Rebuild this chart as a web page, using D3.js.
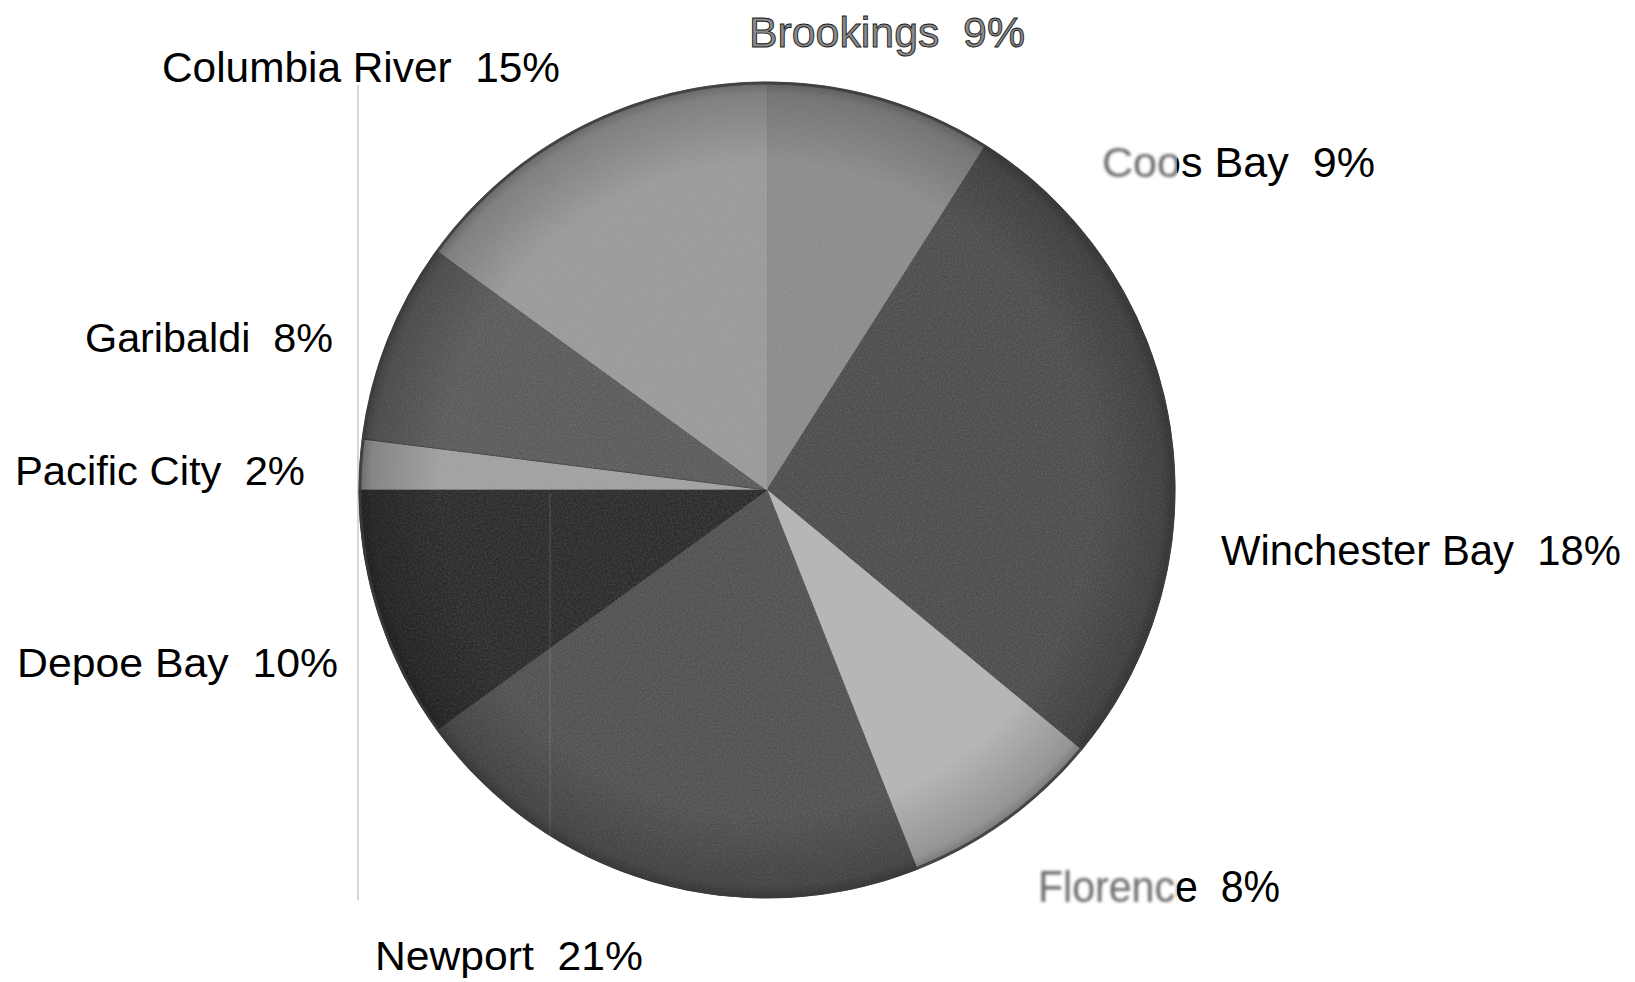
<!DOCTYPE html>
<html>
<head>
<meta charset="utf-8">
<script src="https://cdn.jsdelivr.net/npm/d3@7"></script>
<style>
  html, body { margin: 0; padding: 0; background: #fff; }
  svg { display: block; }
  text { font-family: "Liberation Sans", Arial, Helvetica, sans-serif; white-space: pre; }
</style>
</head>
<body>
<svg id="chart" width="1635" height="982"></svg>
<script>
// ---- data ----
const categories = ["Brookings", "Coos Bay", "Winchester Bay", "Florence", "Newport",
                    "Depoe Bay", "Pacific City", "Garibaldi", "Columbia River"];
const percents   = [9, 9, 18, 8, 21, 10, 2, 8, 15];

// ---- styles / layout (kept separate from data) ----
const sliceFill = ["#8d8d8d", "#4e4e4e", "#4e4e4e", "#b6b6b6", "#525252",
                   "#2c2c2c", "#a2a2a2", "#5c5c5c", "#9b9b9b"];
const sliceStroke = ["rgba(70,70,70,0.6)", "#4e4e4e", "#4e4e4e", "#b6b6b6", "#525252",
                     "#2c2c2c", "rgba(50,50,50,0.7)", "rgba(50,50,50,0.6)", "#9b9b9b"];
// label anchor: left x, baseline y, target width, font size
const labelLayout = [
  {x: 749,  y: 47,  w: 276, fs: 43},
  {x: 1102, y: 177, w: 273, fs: 42},
  {x: 1221, y: 565, w: 400, fs: 43},
  {x: 1038, y: 902, w: 242, fs: 44},
  {x: 375,  y: 970, w: 268, fs: 40},
  {x: 17,   y: 677, w: 321, fs: 40},
  {x: 15,   y: 485, w: 290, fs: 40},
  {x: 85,   y: 352, w: 248, fs: 40},
  {x: 162,  y: 82,  w: 398, fs: 42}
];
const cx = 767, cy = 490, R = 408;

const svg = d3.select("#chart");
const defs = svg.append("defs");

// grain filter
const grain = defs.append("filter").attr("id", "grain").attr("x", 0).attr("y", 0).attr("width", 1).attr("height", 1);
grain.append("feTurbulence").attr("type", "fractalNoise").attr("baseFrequency", 0.55).attr("numOctaves", 2).attr("seed", 3).attr("result", "n");
grain.append("feColorMatrix").attr("in", "n").attr("type", "matrix")
  .attr("values", "0 0 0 0 0.5  0 0 0 0 0.5  0 0 0 0 0.5  0 0 0 0.9 -0.3").attr("result", "g");
grain.append("feComposite").attr("in", "g").attr("in2", "SourceGraphic").attr("operator", "in");

const blur = defs.append("filter").attr("id", "blur").attr("x", "-10%").attr("y", "-30%").attr("width", "120%").attr("height", "160%");
blur.append("feGaussianBlur").attr("stdDeviation", 1.8);

const vign = defs.append("radialGradient").attr("id", "vign");
vign.append("stop").attr("offset", "0.80").attr("stop-color", "#000").attr("stop-opacity", 0);
vign.append("stop").attr("offset", "0.97").attr("stop-color", "#000").attr("stop-opacity", 0.18);
vign.append("stop").attr("offset", "1").attr("stop-color", "#000").attr("stop-opacity", 0.35);

defs.append("clipPath").attr("id", "leftClip").append("rect").attr("x", 0).attr("y", 0).attr("width", 1177).attr("height", 982);
defs.append("clipPath").attr("id", "rightClip").append("rect").attr("x", 1177).attr("y", 0).attr("width", 458).attr("height", 982);

// scan artefact: thin vertical rule on the left
svg.append("line").attr("x1", 358).attr("x2", 358).attr("y1", 85).attr("y2", 900)
  .attr("stroke", "#d6d6d6").attr("stroke-width", 2);

// ---- pie ----
const pie = d3.pie().sort(null).value(d => d)(percents);
const arc = d3.arc().innerRadius(0).outerRadius(R);
const g = svg.append("g").attr("transform", `translate(${cx},${cy})`);

g.selectAll("path.slice").data(pie).join("path")
  .attr("class", "slice")
  .attr("d", arc)
  .attr("fill", (d, i) => sliceFill[i])
  .attr("stroke", (d, i) => sliceStroke[i])
  .attr("stroke-width", 1);

// faint scan line inside Newport
svg.append("line").attr("x1", 550).attr("x2", 550).attr("y1", 493).attr("y2", 890)
  .attr("stroke", "rgba(255,255,255,0.08)").attr("stroke-width", 2);

g.append("circle").attr("r", R).attr("fill", "#808080").attr("filter", "url(#grain)").attr("opacity", 0.35);
g.append("circle").attr("r", R).attr("fill", "url(#vign)");
g.append("circle").attr("r", R - 1).attr("fill", "none").attr("stroke", "#3c3c3c").attr("stroke-width", 3).attr("opacity", 0.85);

// ---- labels ----
const labelText = categories.map((c, i) => `${c}  ${percents[i]}%`);

function addLabel(sel, i) {
  const L = labelLayout[i];
  return sel.append("text")
    .attr("x", L.x).attr("y", L.y)
    .attr("font-size", L.fs)
    .attr("textLength", L.w)
    .attr("lengthAdjust", "spacingAndGlyphs")
    .text(labelText[i]);
}

const labels = svg.append("g");
categories.forEach((c, i) => {
  if (c === "Brookings") {
    addLabel(labels, i).attr("fill", "#8a8a8a").attr("stroke", "#1a1a1a").attr("stroke-width", 0.9);
  } else if (c === "Coos Bay" || c === "Florence") {
    addLabel(labels.append("g").attr("clip-path", "url(#leftClip)"), i)
      .attr("fill", "#6a6a6a").attr("filter", "url(#blur)");
    addLabel(labels.append("g").attr("clip-path", "url(#rightClip)"), i).attr("fill", "#000");
  } else {
    addLabel(labels, i).attr("fill", "#000");
  }
});
</script>
</body>
</html>
